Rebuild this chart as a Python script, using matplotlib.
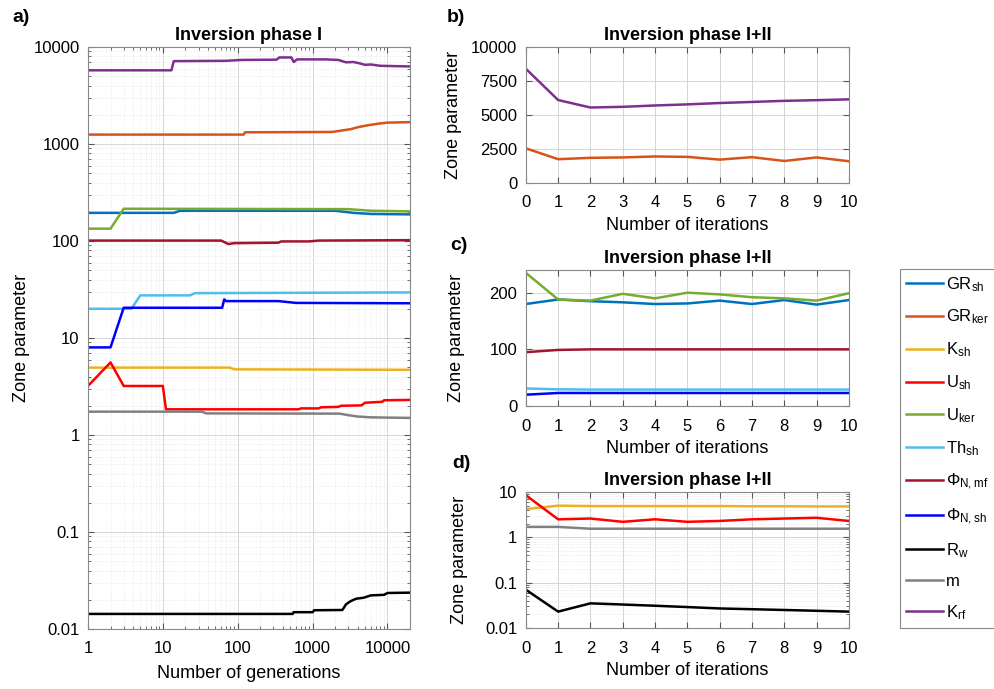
import numpy as np
import matplotlib
matplotlib.use("Agg")
import matplotlib.pyplot as plt
from matplotlib.ticker import LogLocator, FuncFormatter, NullFormatter

plt.rcParams['font.family'] = ['Liberation Sans', 'DejaVu Sans']
plt.rcParams['mathtext.default'] = 'regular'

# ---- panel a: inversion phase I, values vs generation ----
gen_grsh = [1, 14, 17, 2000, 3500, 6000, 20000]
val_grsh = [195, 195, 205, 205, 195, 190, 188]
gen_grker = [1, 120, 125, 1800, 2500, 3200, 4200, 5500, 7500, 10000, 20000]
val_grker = [1250, 1250, 1320, 1330, 1380, 1420, 1500, 1560, 1620, 1660, 1680]
gen_ksh = [1, 78, 90, 20000]
val_ksh = [4.95, 4.95, 4.75, 4.7]
gen_ush = [1, 2, 3, 10, 11, 650, 700, 1200, 1300, 2200, 2400, 4500, 5000, 8500, 9000, 20000]
val_ush = [3.2, 5.6, 3.2, 3.2, 1.84, 1.84, 1.88, 1.88, 1.93, 1.95, 2.0, 2.02, 2.15, 2.2, 2.28, 2.3]
gen_uker = [1, 2, 3, 3000, 6000, 20000]
val_uker = [134, 134, 215, 213, 205, 202]
gen_thsh = [1, 3.8, 5, 23, 27, 20000]
val_thsh = [20, 20, 27.5, 27.5, 29, 29.5]
gen_phimf = [1, 60, 75, 90, 350, 380, 900, 1200, 20000]
val_phimf = [101, 101, 93, 95, 96, 99, 99, 101, 102]
gen_phish = [1, 2, 3, 62, 66, 70, 350, 600, 20000]
val_phish = [8, 8, 20.5, 20.5, 25, 24, 24, 23, 22.8]
gen_rw = [1, 540, 560, 1000, 1050, 2500, 2800, 3200, 3800, 4800, 6000, 9000, 10000, 20000]
val_rw = [0.0143, 0.0143, 0.0149, 0.0149, 0.0156, 0.0157, 0.018, 0.0193, 0.0205, 0.021, 0.0222, 0.0225, 0.0235, 0.0237]
gen_m = [1, 33, 38, 2300, 3000, 4000, 6000, 20000]
val_m = [1.74, 1.74, 1.67, 1.66, 1.6, 1.55, 1.52, 1.5]
gen_krf = [1, 13, 14, 70, 110, 330, 360, 520, 560, 620, 1500, 2200, 2800, 3500, 4200, 5000, 6000, 8000, 20000]
val_krf = [5750, 5750, 7150, 7200, 7350, 7400, 7800, 7800, 7000, 7450, 7450, 7350, 6950, 7000, 6800, 6550, 6600, 6400, 6300]

# ---- panels b-d: inversion phase I+II, values vs iteration ----
iters = list(range(11))
it_krf = [8400, 6100, 5550, 5600, 5700, 5780, 5880, 5960, 6040, 6090, 6150]
it_grker = [2550, 1750, 1850, 1880, 1950, 1920, 1720, 1900, 1620, 1880, 1600]
it_grsh = [180, 188, 185, 183, 180, 181, 186, 180, 187, 179, 187]
it_uker = [235, 188, 186, 198, 190, 200, 197, 192, 190, 186, 199]
it_phimf = [95, 99, 100, 100, 100, 100, 100, 100, 100, 100, 100]
it_thsh = [31, 29.5, 29, 29, 29, 29, 29, 29, 29, 29, 29]
it_phish = [20, 23, 23, 23, 23, 23, 23, 23, 23, 23, 23]
it_ush = [8.5, 2.5, 2.6, 2.2, 2.5, 2.2, 2.3, 2.5, 2.6, 2.7, 2.3]
it_ksh = [4.2, 5.0, 4.9, 4.9, 4.9, 4.9, 4.9, 4.85, 4.85, 4.8, 4.8]
it_m = [1.7, 1.7, 1.55, 1.55, 1.55, 1.55, 1.55, 1.55, 1.55, 1.55, 1.55]
it_rw = [0.07, 0.023, 0.035, 0.033, 0.031, 0.029, 0.027, 0.026, 0.025, 0.024, 0.023]

labels = ['GR$_{sh}$', 'GR$_{ker}$', 'K$_{sh}$', 'U$_{sh}$', 'U$_{ker}$', 'Th$_{sh}$',
          r'$\Phi_{N,mf}$', r'$\Phi_{N,sh}$', 'R$_w$', 'm', 'K$_{rf}$']
colors = ['#0072BD', '#D95319', '#EDB120', '#FF0000', '#77AC30', '#4DBEEE',
          '#A2142F', '#0000FF', '#000000', '#808080', '#7E2F8E']

lw = 1.8
fig = plt.figure(figsize=(9.94, 6.89), dpi=100)
axa = fig.add_axes([0.0885, 0.0871, 0.324, 0.8447])
axb = fig.add_axes([0.529, 0.7344, 0.325, 0.1974])
axc = fig.add_axes([0.529, 0.4107, 0.325, 0.1974])
axd = fig.add_axes([0.529, 0.0885, 0.325, 0.1974])

series_a = [(gen_grsh, val_grsh), (gen_grker, val_grker), (gen_ksh, val_ksh),
            (gen_ush, val_ush), (gen_uker, val_uker), (gen_thsh, val_thsh),
            (gen_phimf, val_phimf), (gen_phish, val_phish), (gen_rw, val_rw),
            (gen_m, val_m), (gen_krf, val_krf)]
handles = []
for (g, v), c, lab in zip(series_a, colors, labels):
    h, = axa.plot(g, v, color=c, lw=lw, label=lab)
    handles.append(h)

fmt = FuncFormatter(lambda v, p: '%g' % v)

axa.set_xscale('log')
axa.set_yscale('log')
axa.set_xlim(1, 20000)
axa.set_ylim(0.01, 10000)
axa.set_xticks([1, 10, 100, 1000, 10000])
axa.set_yticks([0.01, 0.1, 1, 10, 100, 1000, 10000])
axa.xaxis.set_major_formatter(fmt)
axa.yaxis.set_major_formatter(fmt)
axa.xaxis.set_minor_locator(LogLocator(base=10, subs=np.arange(2, 10), numticks=20))
axa.yaxis.set_minor_locator(LogLocator(base=10, subs=np.arange(2, 10), numticks=20))
axa.xaxis.set_minor_formatter(NullFormatter())
axa.yaxis.set_minor_formatter(NullFormatter())
axa.grid(True, which='major', color='#d0d0d0', lw=0.6)
axa.grid(True, which='minor', color='#e0e0e0', lw=0.5, ls=':')
axa.set_xlabel('Number of generations', fontsize=13, labelpad=6)
axa.set_ylabel('Zone parameter', fontsize=13)
axa.yaxis.set_label_coords(-0.18, 0.5)
axa.set_title('Inversion phase I', fontsize=13, fontweight='bold', pad=5)

axb.plot(iters, it_krf, color=colors[10], lw=lw)
axb.plot(iters, it_grker, color=colors[1], lw=lw)
axb.set_ylim(0, 10000)
axb.set_yticks([0, 2500, 5000, 7500, 10000])

axc.plot(iters, it_grsh, color=colors[0], lw=lw)
axc.plot(iters, it_uker, color=colors[4], lw=lw)
axc.plot(iters, it_phimf, color=colors[6], lw=lw)
axc.plot(iters, it_thsh, color=colors[5], lw=lw)
axc.plot(iters, it_phish, color=colors[7], lw=lw)
axc.set_ylim(0, 240)
axc.set_yticks([0, 100, 200])

axd.plot(iters, it_ksh, color=colors[2], lw=lw)
axd.plot(iters, it_ush, color=colors[3], lw=lw)
axd.plot(iters, it_m, color=colors[9], lw=lw)
axd.plot(iters, it_rw, color=colors[8], lw=lw)
axd.set_yscale('log')
axd.set_ylim(0.01, 10)
axd.set_yticks([0.01, 0.1, 1, 10])
axd.yaxis.set_major_formatter(fmt)
axd.yaxis.set_minor_locator(LogLocator(base=10, subs=np.arange(2, 10), numticks=20))
axd.yaxis.set_minor_formatter(NullFormatter())
axd.grid(True, which='minor', axis='y', color='#e0e0e0', lw=0.5, ls=':')

for ax, lx in [(axb, -0.198), (axc, -0.189), (axd, -0.18)]:
    ax.set_xlim(0, 10)
    ax.set_xticks(iters)
    ax.grid(True, which='major', color='#d0d0d0', lw=0.6)
    ax.set_xlabel('Number of iterations', fontsize=13, labelpad=5)
    ax.set_ylabel('Zone parameter', fontsize=13)
    ax.yaxis.set_label_coords(lx, 0.5)
    ax.set_title('Inversion phase I+II', fontsize=13, fontweight='bold', pad=5)

for ax in [axa, axb, axc, axd]:
    ax.set_axisbelow(True)
    ax.tick_params(which='both', direction='in', top=True, right=True,
                   labelsize=12, color='#555555')
    ax.tick_params(which='major', length=4)
    ax.tick_params(which='minor', length=2)
    ax.tick_params(axis='x', which='major', pad=9)
    ax.tick_params(axis='y', which='major', pad=6)
    for s in ax.spines.values():
        s.set_color('#888888')
        s.set_linewidth(0.8)

fig.text(12 / 994, 1 - 18 / 689, 'a)', fontsize=14, fontweight='bold', va='center')
fig.text(447 / 994, 1 - 18 / 689, 'b)', fontsize=14, fontweight='bold', va='center')
fig.text(450 / 994, 1 - 245 / 689, 'c)', fontsize=14, fontweight='bold', va='center')
fig.text(452 / 994, 1 - 463 / 689, 'd)', fontsize=14, fontweight='bold', va='center')

leg = fig.legend(handles=handles, loc='upper left', bbox_to_anchor=(900 / 994, 1 - 269 / 689),
                 fontsize=12, handlelength=2.2, handletextpad=0.2, labelspacing=0.85,
                 borderpad=0.35, borderaxespad=0, fancybox=False, framealpha=1,
                 edgecolor='#888888')
leg.get_frame().set_linewidth(0.8)

fig.savefig('out.png', dpi=100)
